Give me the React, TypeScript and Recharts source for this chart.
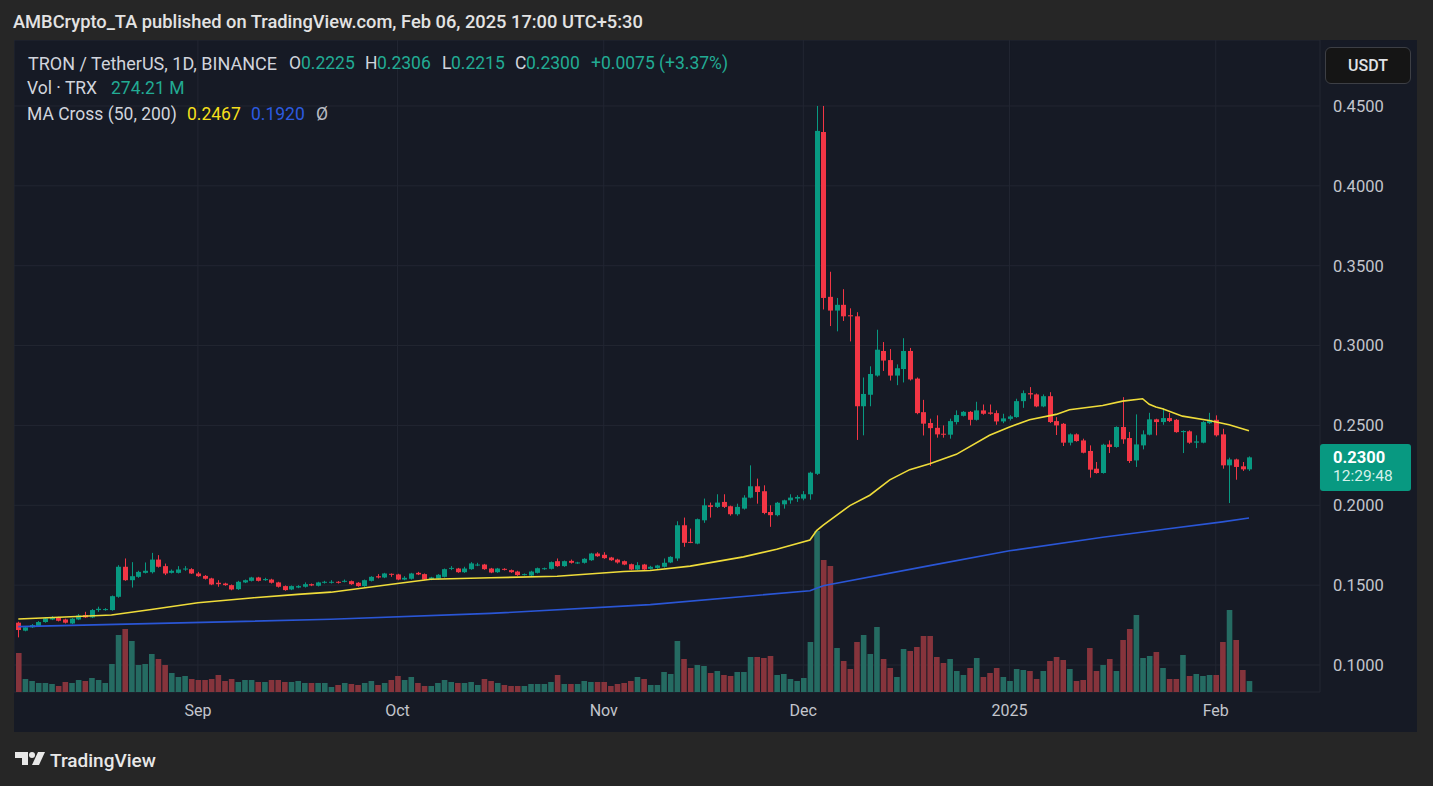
import React from 'react';
import { ComposedChart, Bar, Line, XAxis, YAxis, CartesianGrid, Cell } from 'recharts';

// TRX/USDT daily candles, Aug 05 2024 -> Feb 06 2025 (index 0 = Aug 05)
const opens = [
  0.1265, 0.1215, 0.1236, 0.1244, 0.1269, 0.1285, 0.1296, 0.1285, 0.1260, 0.1285,
  0.1313, 0.1298, 0.1344, 0.1344, 0.1344, 0.1427, 0.1615, 0.1531, 0.1552, 0.1577,
  0.1581, 0.1660, 0.1619, 0.1577, 0.1577, 0.1598, 0.1600, 0.1573, 0.1558, 0.1542,
  0.1515, 0.1510, 0.1500, 0.1475, 0.1517, 0.1527, 0.1548, 0.1531, 0.1535, 0.1517,
  0.1494, 0.1473, 0.1485, 0.1490, 0.1506, 0.1496, 0.1515, 0.1517, 0.1521, 0.1523,
  0.1525, 0.1515, 0.1494, 0.1527, 0.1556, 0.1548, 0.1571, 0.1567, 0.1535, 0.1540,
  0.1577, 0.1569, 0.1535, 0.1540, 0.1552, 0.1602, 0.1604, 0.1581, 0.1600, 0.1623,
  0.1629, 0.1604, 0.1581, 0.1602, 0.1594, 0.1585, 0.1565, 0.1560, 0.1577, 0.1600,
  0.1602, 0.1650, 0.1619, 0.1652, 0.1638, 0.1640, 0.1656, 0.1698, 0.1690, 0.1673,
  0.1660, 0.1650, 0.1631, 0.1598, 0.1629, 0.1602, 0.1608, 0.1615, 0.1642, 0.1667,
  0.1875, 0.1771, 0.1760, 0.1906, 0.2000, 0.1990, 0.2021, 0.1994, 0.1944, 0.1979,
  0.2048, 0.2119, 0.2088, 0.1958, 0.1938, 0.2006, 0.2031, 0.2042, 0.2042, 0.2069,
  0.2197, 0.4337, 0.3305, 0.3219, 0.3255, 0.3190, 0.3183, 0.2620, 0.2692, 0.2812,
  0.2966, 0.2909, 0.2812, 0.2853, 0.2966, 0.2793, 0.2583, 0.2515, 0.2485, 0.2448,
  0.2442, 0.2521, 0.2560, 0.2585, 0.2535, 0.2594, 0.2581, 0.2577, 0.2525, 0.2541,
  0.2552, 0.2652, 0.2702, 0.2694, 0.2619, 0.2683, 0.2527, 0.2510, 0.2392, 0.2444,
  0.2406, 0.2340, 0.2229, 0.2202, 0.2381, 0.2365, 0.2490, 0.2421, 0.2281, 0.2375,
  0.2442, 0.2538, 0.2521, 0.2546, 0.2535, 0.2458, 0.2463, 0.2392, 0.2392, 0.2514,
  0.2535, 0.2444, 0.2250, 0.2287, 0.2244, 0.2225,
];
const highs = [
  0.1271, 0.1244, 0.1256, 0.1275, 0.1298, 0.1306, 0.1302, 0.1290, 0.1294, 0.1319,
  0.1333, 0.1350, 0.1365, 0.1356, 0.1435, 0.1625, 0.1667, 0.1644, 0.1590, 0.1642,
  0.1702, 0.1688, 0.1635, 0.1598, 0.1619, 0.1619, 0.1606, 0.1583, 0.1563, 0.1546,
  0.1531, 0.1515, 0.1504, 0.1527, 0.1535, 0.1552, 0.1552, 0.1546, 0.1540, 0.1521,
  0.1498, 0.1498, 0.1500, 0.1517, 0.1510, 0.1521, 0.1527, 0.1531, 0.1525, 0.1535,
  0.1529, 0.1519, 0.1535, 0.1556, 0.1569, 0.1577, 0.1573, 0.1571, 0.1556, 0.1577,
  0.1583, 0.1573, 0.1552, 0.1569, 0.1604, 0.1619, 0.1608, 0.1615, 0.1644, 0.1640,
  0.1633, 0.1608, 0.1608, 0.1606, 0.1598, 0.1590, 0.1573, 0.1590, 0.1610, 0.1610,
  0.1648, 0.1667, 0.1654, 0.1660, 0.1646, 0.1669, 0.1702, 0.1706, 0.1706, 0.1677,
  0.1665, 0.1654, 0.1635, 0.1644, 0.1633, 0.1621, 0.1627, 0.1667, 0.1681, 0.1900,
  0.1923, 0.1854, 0.1917, 0.2042, 0.2017, 0.2069, 0.2069, 0.1998, 0.2010, 0.2063,
  0.2250, 0.2167, 0.2125, 0.2000, 0.2021, 0.2035, 0.2069, 0.2063, 0.2089, 0.2210,
  0.4500, 0.4500, 0.3462, 0.3298, 0.3353, 0.3233, 0.3209, 0.2800, 0.2870, 0.3099,
  0.3022, 0.2978, 0.2882, 0.3046, 0.2985, 0.2800, 0.2660, 0.2542, 0.2563, 0.2500,
  0.2542, 0.2594, 0.2590, 0.2590, 0.2648, 0.2631, 0.2631, 0.2594, 0.2573, 0.2564,
  0.2667, 0.2719, 0.2740, 0.2700, 0.2694, 0.2708, 0.2552, 0.2515, 0.2450, 0.2450,
  0.2417, 0.2375, 0.2271, 0.2385, 0.2406, 0.2494, 0.2677, 0.2459, 0.2569, 0.2469,
  0.2579, 0.2542, 0.2608, 0.2579, 0.2540, 0.2469, 0.2469, 0.2438, 0.2527, 0.2579,
  0.2563, 0.2479, 0.2298, 0.2292, 0.2271, 0.2306,
];
const lows = [
  0.1173, 0.1211, 0.1232, 0.1240, 0.1265, 0.1281, 0.1273, 0.1260, 0.1256, 0.1281,
  0.1294, 0.1294, 0.1333, 0.1340, 0.1340, 0.1421, 0.1527, 0.1485, 0.1546, 0.1573,
  0.1573, 0.1610, 0.1563, 0.1573, 0.1573, 0.1590, 0.1570, 0.1552, 0.1535, 0.1500,
  0.1490, 0.1496, 0.1468, 0.1470, 0.1513, 0.1523, 0.1523, 0.1527, 0.1510, 0.1485,
  0.1465, 0.1469, 0.1481, 0.1485, 0.1494, 0.1492, 0.1510, 0.1510, 0.1510, 0.1517,
  0.1502, 0.1490, 0.1490, 0.1523, 0.1542, 0.1544, 0.1552, 0.1531, 0.1531, 0.1535,
  0.1563, 0.1531, 0.1531, 0.1535, 0.1548, 0.1594, 0.1577, 0.1577, 0.1596, 0.1619,
  0.1596, 0.1575, 0.1577, 0.1592, 0.1577, 0.1558, 0.1560, 0.1556, 0.1573, 0.1596,
  0.1598, 0.1615, 0.1615, 0.1635, 0.1633, 0.1635, 0.1652, 0.1677, 0.1665, 0.1652,
  0.1635, 0.1625, 0.1594, 0.1594, 0.1594, 0.1598, 0.1602, 0.1610, 0.1638, 0.1652,
  0.1740, 0.1763, 0.1756, 0.1890, 0.1923, 0.1983, 0.1983, 0.1935, 0.1935, 0.1973,
  0.2044, 0.2010, 0.1944, 0.1865, 0.1931, 0.1979, 0.2010, 0.2021, 0.2031, 0.2035,
  0.2190, 0.3226, 0.3122, 0.3089, 0.3154, 0.3026, 0.2409, 0.2438, 0.2620, 0.2805,
  0.2841, 0.2781, 0.2752, 0.2769, 0.2781, 0.2570, 0.2437, 0.2246, 0.2423, 0.2423,
  0.2417, 0.2506, 0.2556, 0.2500, 0.2530, 0.2567, 0.2567, 0.2504, 0.2514, 0.2531,
  0.2548, 0.2610, 0.2667, 0.2614, 0.2614, 0.2515, 0.2440, 0.2371, 0.2375, 0.2398,
  0.2325, 0.2173, 0.2198, 0.2198, 0.2327, 0.2360, 0.2385, 0.2265, 0.2240, 0.2350,
  0.2438, 0.2438, 0.2504, 0.2521, 0.2454, 0.2327, 0.2385, 0.2358, 0.2388, 0.2508,
  0.2430, 0.2229, 0.2014, 0.2160, 0.2215, 0.2215,
];
const closes = [
  0.1219, 0.1236, 0.1250, 0.1269, 0.1292, 0.1298, 0.1277, 0.1265, 0.1290, 0.1310,
  0.1298, 0.1344, 0.1352, 0.1350, 0.1431, 0.1615, 0.1531, 0.1556, 0.1583, 0.1590,
  0.1660, 0.1615, 0.1573, 0.1590, 0.1598, 0.1604, 0.1573, 0.1556, 0.1540, 0.1504,
  0.1506, 0.1500, 0.1473, 0.1521, 0.1531, 0.1548, 0.1527, 0.1538, 0.1515, 0.1490,
  0.1469, 0.1494, 0.1494, 0.1506, 0.1498, 0.1517, 0.1521, 0.1521, 0.1515, 0.1527,
  0.1506, 0.1494, 0.1531, 0.1552, 0.1548, 0.1573, 0.1565, 0.1535, 0.1546, 0.1573,
  0.1567, 0.1535, 0.1548, 0.1565, 0.1600, 0.1608, 0.1581, 0.1604, 0.1636, 0.1629,
  0.1600, 0.1579, 0.1604, 0.1596, 0.1581, 0.1563, 0.1569, 0.1585, 0.1606, 0.1606,
  0.1644, 0.1619, 0.1650, 0.1640, 0.1642, 0.1665, 0.1698, 0.1681, 0.1669, 0.1656,
  0.1642, 0.1629, 0.1598, 0.1625, 0.1598, 0.1615, 0.1623, 0.1640, 0.1677, 0.1875,
  0.1765, 0.1765, 0.1913, 0.2000, 0.1990, 0.2017, 0.1990, 0.1944, 0.1990, 0.2048,
  0.2119, 0.2083, 0.1952, 0.1938, 0.2016, 0.2031, 0.2048, 0.2052, 0.2069, 0.2204,
  0.4344, 0.3298, 0.3219, 0.3255, 0.3183, 0.3183, 0.2620, 0.2697, 0.2822, 0.2974,
  0.2906, 0.2812, 0.2858, 0.2966, 0.2788, 0.2577, 0.2511, 0.2483, 0.2444, 0.2442,
  0.2527, 0.2565, 0.2585, 0.2535, 0.2594, 0.2573, 0.2573, 0.2525, 0.2544, 0.2556,
  0.2652, 0.2702, 0.2694, 0.2619, 0.2683, 0.2521, 0.2500, 0.2392, 0.2444, 0.2402,
  0.2329, 0.2223, 0.2202, 0.2379, 0.2365, 0.2490, 0.2413, 0.2277, 0.2381, 0.2444,
  0.2538, 0.2521, 0.2546, 0.2527, 0.2458, 0.2465, 0.2392, 0.2400, 0.2521, 0.2535,
  0.2438, 0.2250, 0.2287, 0.2240, 0.2225, 0.2300,
];
// volume, millions of TRX
const volumes = [
  975, 325, 275, 225, 225, 200, 150, 250, 225, 300, 275, 350, 300, 225, 700, 1425, 1575, 1275, 675, 700,
  950, 825, 675, 475, 375, 400, 325, 300, 300, 325, 425, 275, 325, 250, 300, 300, 250, 250, 300, 300,
  250, 250, 275, 225, 225, 225, 225, 125, 175, 225, 200, 175, 225, 275, 175, 225, 300, 400, 300, 375,
  225, 150, 150, 225, 300, 250, 225, 225, 250, 175, 325, 275, 225, 175, 150, 150, 150, 200, 200, 200,
  250, 425, 200, 200, 200, 275, 250, 250, 250, 150, 200, 225, 275, 375, 325, 175, 175, 500, 450, 1275,
  825, 600, 675, 650, 475, 525, 425, 400, 500, 500, 875, 875, 850, 900, 425, 450, 325, 275, 350, 1250,
  4025, 3300, 3150, 1100, 775, 575, 1250, 1425, 950, 1625, 825, 600, 375, 1075, 1025, 1125, 1400, 1400, 875, 725,
  825, 525, 425, 600, 850, 375, 475, 600, 375, 275, 575, 550, 525, 325, 525, 775, 875, 800, 575, 275,
  300, 1100, 525, 675, 825, 525, 1300, 1575, 1925, 850, 900, 1000, 600, 325, 325, 925, 400, 450, 400, 425,
  425, 1250, 2050, 1300, 550, 274.21,
];

const ma50Days = [0, 14, 20, 27, 35, 42, 47, 57, 62, 71, 81, 91, 95, 101, 109, 114, 119, 120, 121, 125, 128, 131, 134, 137, 141, 146, 149, 152, 156, 158, 163, 166, 169, 170, 171, 172, 175, 179, 182, 184, 185];
const ma50Values = [0.1288, 0.1313, 0.1348, 0.1390, 0.1420, 0.1442, 0.1456, 0.1510, 0.1537, 0.1546, 0.1556, 0.1585, 0.1592, 0.1619, 0.1677, 0.1725, 0.1783, 0.1842, 0.1876, 0.1998, 0.2063, 0.2159, 0.2223, 0.2260, 0.2319, 0.2438, 0.2490, 0.2535, 0.2569, 0.2598, 0.2625, 0.2652, 0.2667, 0.2632, 0.2615, 0.2604, 0.2558, 0.2531, 0.2504, 0.2479, 0.2467];
const ma200Days = [0, 47, 71, 95, 119, 120, 121, 137, 149, 163, 172, 181, 185];
const ma200Values = [0.1240, 0.1286, 0.1323, 0.1378, 0.1465, 0.1480, 0.1496, 0.1622, 0.1715, 0.1800, 0.1848, 0.1896, 0.1920];

const monthTicks = [27, 57, 88, 118, 149, 180];
const monthLabels = ['Sep', 'Oct', 'Nov', 'Dec', '2025', 'Feb'];
const priceTicks = [0.1, 0.15, 0.2, 0.25, 0.3, 0.35, 0.4, 0.45];

const GREEN = '#089981';
const RED = '#f23645';
const VOL_GREEN = '#256b62';
const VOL_RED = '#86343c';

const ma50At: Record<number, number> = {};
ma50Days.forEach((d, k) => (ma50At[d] = ma50Values[k]));
const ma200At: Record<number, number> = {};
ma200Days.forEach((d, k) => (ma200At[d] = ma200Values[k]));

const data = opens.map((o, i) => ({
  i,
  open: o,
  high: highs[i],
  low: lows[i],
  close: closes[i],
  range: [lows[i], highs[i]],
  vol: volumes[i],
  ma50: ma50At[i] ?? null,
  ma200: ma200At[i] ?? null,
}));

const Candle = (props: any) => {
  const { x, y, width, height, payload } = props;
  if (!payload) return null;
  const { open, close, high, low } = payload;
  const color = close >= open ? GREEN : RED;
  const top = Math.min(y, y + height);
  const h = Math.abs(height);
  const k = h / (high - low || 1);
  const bodyTop = top + (high - Math.max(open, close)) * k;
  const bodyH = Math.max(1, Math.abs(open - close) * k);
  const cx = Math.round(x + width / 2) + 0.5;
  return (
    <g>
      <line x1={cx} x2={cx} y1={top} y2={top + h} stroke={color} strokeWidth={1} />
      <rect x={cx - 2.5} y={bodyTop} width={5} height={bodyH} fill={color} />
    </g>
  );
};

const txt = '#d1d4dc';
const up = '#22ab94';

const App = () => {
  return (
    <div
      style={{
        position: 'relative',
        width: 1433,
        height: 786,
        background: '#262626',
        fontFamily: 'Roboto, "Noto Sans", sans-serif',
        overflow: 'hidden',
      }}
    >
      <style>{'body{margin:0;background:#262626}'}</style>
      <div style={{ position: 'absolute', left: 13, top: 11, fontSize: 18.3, fontWeight: 500, color: '#e3e3e3', whiteSpace: 'nowrap' }}>
        AMBCrypto_TA published on TradingView.com, Feb 06, 2025 17:00 UTC+5:30
      </div>

      <div style={{ position: 'absolute', left: 14, top: 40, width: 1403, height: 692, background: '#161a25' }}>
        <ComposedChart width={1403} height={692} data={data} margin={{ top: 0, right: 0, bottom: 0, left: 0 }}>
          <CartesianGrid xAxisId="p" yAxisId="price" stroke="#222632" strokeWidth={1} />
          <XAxis
            xAxisId="p"
            type="number"
            dataKey="i"
            domain={[-0.646, 195.67]}
            allowDataOverflow
            ticks={monthTicks}
            interval={0}
            tickFormatter={(v: number) => monthLabels[monthTicks.indexOf(v)] ?? ''}
            height={40}
            axisLine={false}
            tickLine={false}
            tickSize={0}
            tickMargin={13}
            tick={{ fill: '#c3c5cc', fontSize: 16 }}
          />
          <XAxis xAxisId="v" type="number" dataKey="i" domain={[-0.646, 195.67]} allowDataOverflow hide />
          <YAxis
            yAxisId="price"
            orientation="right"
            width={97}
            domain={[0.0831, 0.4913]}
            allowDataOverflow
            ticks={priceTicks}
            interval={0}
            tickFormatter={(v: number) => v.toFixed(4)}
            axisLine={false}
            tickLine={false}
            tickSize={0}
            tickMargin={13}
            tick={{ fill: '#c3c5cc', fontSize: 16.5 }}
          />
          <YAxis yAxisId="vol" domain={[0, 16300]} allowDataOverflow hide />
          <Bar xAxisId="v" yAxisId="vol" dataKey="vol" barSize={5.6} isAnimationActive={false}>
            {data.map((d) => (
              <Cell key={d.i} fill={d.close >= d.open ? VOL_GREEN : VOL_RED} />
            ))}
          </Bar>
          <Line
            xAxisId="p"
            yAxisId="price"
            dataKey="ma200"
            type="linear"
            stroke="#2a56d6"
            strokeWidth={1.6}
            dot={false}
            connectNulls
            isAnimationActive={false}
          />
          <Line
            xAxisId="p"
            yAxisId="price"
            dataKey="ma50"
            type="linear"
            stroke="#efdc3a"
            strokeWidth={1.6}
            dot={false}
            connectNulls
            isAnimationActive={false}
          />
          <Bar xAxisId="p" yAxisId="price" dataKey="range" barSize={5} shape={Candle} isAnimationActive={false} />
        </ComposedChart>
      </div>

      {/* legend rows */}
      <div style={{ position: 'absolute', left: 0, top: 53, fontSize: 17.5, color: txt, whiteSpace: 'nowrap' }}>
        <span style={{ position: 'absolute', left: 28, fontSize: 18 }}>TRON / TetherUS, 1D, BINANCE</span>
        <span style={{ position: 'absolute', left: 289 }}>O</span>
        <span style={{ position: 'absolute', left: 301, color: up }}>0.2225</span>
        <span style={{ position: 'absolute', left: 365 }}>H</span>
        <span style={{ position: 'absolute', left: 377, color: up }}>0.2306</span>
        <span style={{ position: 'absolute', left: 442 }}>L</span>
        <span style={{ position: 'absolute', left: 451, color: up }}>0.2215</span>
        <span style={{ position: 'absolute', left: 515 }}>C</span>
        <span style={{ position: 'absolute', left: 526, color: up }}>0.2300</span>
        <span style={{ position: 'absolute', left: 591, color: up }}>+0.0075 (+3.37%)</span>
      </div>
      <div style={{ position: 'absolute', left: 0, top: 78, fontSize: 17.5, color: txt, whiteSpace: 'nowrap' }}>
        <span style={{ position: 'absolute', left: 27 }}>Vol · TRX</span>
        <span style={{ position: 'absolute', left: 111, color: up }}>274.21 M</span>
      </div>
      <div style={{ position: 'absolute', left: 0, top: 104, fontSize: 17.5, color: txt, whiteSpace: 'nowrap' }}>
        <span style={{ position: 'absolute', left: 27 }}>MA Cross (50, 200)</span>
        <span style={{ position: 'absolute', left: 187, color: '#f5df1c' }}>0.2467</span>
        <span style={{ position: 'absolute', left: 251, color: '#2c5be0' }}>0.1920</span>
        <span style={{ position: 'absolute', left: 316, color: '#b8bbc2' }}>Ø</span>
      </div>

      {/* currency button */}
      <div
        style={{
          position: 'absolute',
          left: 1325,
          top: 47,
          width: 84,
          height: 35,
          border: '1px solid #3d3f45',
          borderRadius: 6,
          background: '#151515',
          color: '#e0e2e6',
          fontSize: 16,
          fontWeight: 500,
          display: 'flex',
          alignItems: 'center',
          justifyContent: 'center',
        }}
      >
        USDT
      </div>

      {/* last price label */}
      <div
        style={{
          position: 'absolute',
          left: 1320,
          top: 444,
          width: 91,
          height: 47,
          background: GREEN,
          borderRadius: 3,
          color: '#ffffff',
          boxSizing: 'border-box',
          paddingLeft: 13,
          paddingTop: 4,
          lineHeight: '19px',
        }}
      >
        <div style={{ fontSize: 16.5, fontWeight: 700 }}>0.2300</div>
        <div style={{ fontSize: 15.5, color: '#d6f1eb' }}>12:29:48</div>
      </div>

      {/* footer logo */}
      <svg style={{ position: 'absolute', left: 0, top: 745 }} width={60} height={30}>
        <path d="M15 7 H28 V20 H22 V13 H15 Z" fill="#e8e8e8" />
        <circle cx={32} cy={10} r={3} fill="#e8e8e8" />
        <path d="M38 7 H45 L39 20 H32 Z" fill="#e8e8e8" />
      </svg>
      <div style={{ position: 'absolute', left: 50, top: 749, fontSize: 19, fontWeight: 500, color: '#e8e8e8' }}>
        TradingView
      </div>
    </div>
  );
};

export default App;
